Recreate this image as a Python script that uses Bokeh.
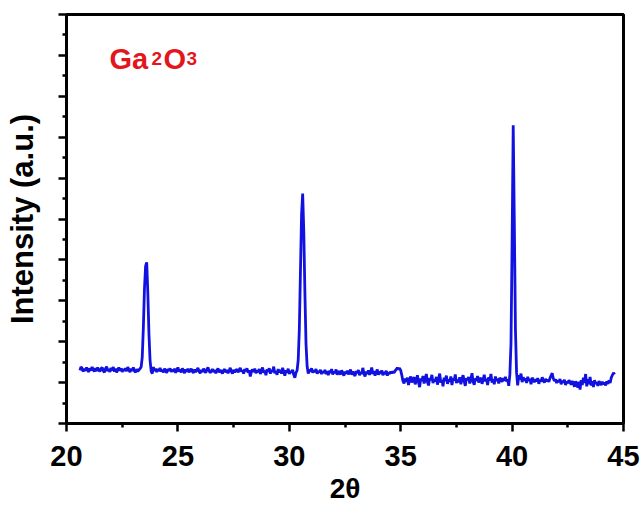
from bokeh.plotting import figure
from bokeh.models import Range1d, FixedTicker, Label, CustomJSTickFormatter
from bokeh.embed import file_html
from bokeh.resources import INLINE

# ---- data -------------------------------------------------------------
two_theta_start = 20.60
two_theta_step = 0.05

intensity = [
    # 20.60 - 21.55
    1.30, 1.38, 1.35, 1.27, 1.34, 1.29, 1.37, 1.31, 1.26, 1.35, 1.30, 1.38, 1.32, 1.27, 1.35, 1.28, 1.37, 1.31, 1.27, 1.34,
    # 21.60 - 22.55
    1.37, 1.29, 1.25, 1.34, 1.39, 1.28, 1.33, 1.26, 1.36, 1.30, 1.38, 1.27, 1.34, 1.25, 1.31, 1.37, 1.29, 1.35, 1.26, 1.33,
    # 22.60 - 23.55
    1.29, 1.35, 1.28, 1.38, 1.31, 1.26, 1.34, 1.29, 1.37, 1.28, 1.25, 1.33, 1.27, 1.31, 1.34, 1.38, 1.62, 2.35, 3.30, 3.85,
    # 23.60 - 24.55
    3.94, 3.20, 2.20, 1.55, 1.28, 1.22, 1.38, 1.29, 1.34, 1.26, 1.33, 1.28, 1.36, 1.27, 1.31, 1.25, 1.34, 1.29, 1.24, 1.33,
    # 24.60 - 25.55
    1.29, 1.35, 1.26, 1.32, 1.27, 1.34, 1.24, 1.30, 1.37, 1.27, 1.32, 1.25, 1.35, 1.29, 1.23, 1.32, 1.27, 1.34, 1.25, 1.30,
    # 25.60 - 26.55
    1.34, 1.27, 1.24, 1.32, 1.26, 1.30, 1.36, 1.27, 1.23, 1.31, 1.26, 1.34, 1.28, 1.24, 1.32, 1.37, 1.29, 1.24, 1.28, 1.33,
    # 26.60 - 27.55
    1.26, 1.31, 1.23, 1.29, 1.35, 1.25, 1.31, 1.27, 1.22, 1.30, 1.33, 1.25, 1.31, 1.23, 1.29, 1.36, 1.27, 1.22, 1.31, 1.26,
    # 27.60 - 28.55
    1.29, 1.33, 1.25, 1.31, 1.36, 1.27, 1.30, 1.22, 1.33, 1.28, 1.35, 1.24, 1.30, 1.15, 1.27, 1.32, 1.26, 1.34, 1.23, 1.29,
    # 28.60 - 29.55
    1.26, 1.33, 1.21, 1.30, 1.37, 1.24, 1.29, 1.18, 1.32, 1.27, 1.35, 1.22, 1.31, 1.26, 1.39, 1.23, 1.28, 1.19, 1.33, 1.25,
    # 29.60 - 30.55
    1.31, 1.22, 1.36, 1.27, 1.17, 1.30, 1.24, 1.34, 1.21, 1.28, 1.25, 1.31, 1.19, 1.12, 1.24, 1.30, 1.55, 2.30, 3.70, 5.10,
    # 30.60 - 31.55
    5.62, 4.70, 3.20, 1.95, 1.40, 1.22, 1.32, 1.27, 1.35, 1.24, 1.30, 1.26, 1.33, 1.22, 1.28, 1.25, 1.31, 1.21, 1.27, 1.24,
    # 31.60 - 32.55
    1.31, 1.21, 1.28, 1.18, 1.29, 1.24, 1.33, 1.20, 1.27, 1.23, 1.32, 1.19, 1.28, 1.24, 1.20, 1.30, 1.23, 1.17, 1.27, 1.22,
    # 32.60 - 33.55
    1.29, 1.20, 1.26, 1.32, 1.19, 1.27, 1.22, 1.16, 1.28, 1.23, 1.31, 1.18, 1.26, 1.21, 1.36, 1.23, 1.15, 1.27, 1.21, 1.30,
    # 33.60 - 34.55
    1.19, 1.26, 1.37, 1.21, 1.28, 1.17, 1.25, 1.32, 1.19, 1.27, 1.22, 1.30, 1.18, 1.26, 1.21, 1.29, 1.17, 1.25, 1.21, 1.27,
    # 34.60 - 35.55
    1.23, 1.27, 1.24, 1.29, 1.32, 1.36, 1.33, 1.35, 1.30, 1.18, 1.04, 0.98, 1.10, 1.02, 1.12, 0.94, 1.08, 1.15, 1.00, 1.09,
    # 35.60 - 36.55
    1.13, 0.96, 1.05, 1.18, 1.01, 0.89, 1.10, 1.04, 1.16, 0.98, 1.07, 1.21, 1.02, 0.93, 1.11, 1.06, 1.19, 0.99, 1.08, 1.03,
    # 36.60 - 37.55
    1.14, 0.95, 1.09, 1.22, 1.00, 1.06, 0.91, 1.12, 1.04, 1.17, 0.97, 1.08, 1.02, 1.15, 0.94, 1.10, 1.05, 1.20, 0.99, 1.07,
    # 37.60 - 38.55
    1.01, 1.13, 0.96, 1.09, 1.18, 1.03, 0.92, 1.11, 1.06, 1.14, 0.98, 1.08, 1.23, 1.02, 0.95, 1.10, 1.05, 1.16, 1.00, 1.07,
    # 38.60 - 39.55
    1.12, 0.97, 1.06, 1.19, 1.03, 1.09, 0.94, 1.13, 1.05, 1.21, 1.00, 1.08, 0.96, 1.15, 1.04, 1.10, 0.98, 1.12, 1.06, 1.02,
    # 39.60 - 40.55
    1.11, 1.05, 1.14, 1.03, 1.08, 0.92, 1.20, 1.95, 4.40, 7.29, 4.90, 2.30, 1.25, 0.93, 1.18, 1.07, 1.22, 1.01, 1.13, 1.05,
    # 40.60 - 41.55
    1.10, 0.99, 1.14, 1.04, 1.09, 0.96, 1.12, 1.06, 1.01, 1.08, 1.03, 1.11, 0.97, 1.07, 1.02, 1.13, 1.05, 1.00, 1.09, 1.04,
    # 41.60 - 42.55
    1.07, 1.02, 1.11, 1.17, 1.23, 1.10, 1.04, 1.08, 0.99, 1.06, 1.01, 1.09, 0.96, 1.05, 1.00, 1.07, 0.94, 1.03, 0.98, 1.06,
    # 42.60 - 43.55
    1.01, 0.95, 1.04, 0.98, 0.90, 1.03, 0.97, 0.88, 1.02, 0.83, 1.06, 0.94, 1.12, 0.99, 1.21, 0.91, 1.08, 0.96, 1.14, 0.93,
    # 43.60 - 44.55
    1.03, 0.89, 1.06, 0.97, 1.01, 0.92, 1.04, 0.98, 0.94, 1.02, 0.96, 1.00, 0.93, 1.03, 0.97, 1.05, 0.99, 1.12, 1.18, 1.24,
    # 44.60
    1.20,
]

two_theta = [round(two_theta_start + i * two_theta_step, 2) for i in range(len(intensity))]

x_major_ticks = [20, 25, 30, 35, 40, 45]
x_minor_ticks = [22.5, 27.5, 32.5, 37.5, 42.5]
y_major_ticks = [0, 1, 2, 3, 4, 5, 6, 7, 8, 9, 10]
y_minor_ticks = [0.5, 1.5, 2.5, 3.5, 4.5, 5.5, 6.5, 7.5, 8.5, 9.5]

x_title = "2θ"
y_title = "Intensity (a.u.)"
sample_parts = ["Ga", "2", "O", "3"]

# ---- figure -----------------------------------------------------------
FONT = "Liberation Sans"
p = figure(width=644, height=507,
           x_range=Range1d(20, 45), y_range=Range1d(0, 10),
           output_backend="svg", toolbar_location=None,
           min_border_left=66, min_border_top=14,
           min_border_right=21, min_border_bottom=84)
p.background_fill_color = "white"
p.border_fill_color = "white"
p.grid.visible = False
p.outline_line_color = "black"
p.outline_line_width = 3

p.line(two_theta, intensity, line_color="#1212e0", line_width=2.8)

for ax in (p.xaxis[0], p.yaxis[0]):
    ax.axis_line_width = 3
    ax.axis_line_color = "black"
    ax.major_tick_line_width = 2.5
    ax.minor_tick_line_width = 2.5
    ax.major_tick_line_color = "black"
    ax.minor_tick_line_color = "black"
    ax.major_tick_in = 0
    ax.major_tick_out = 8
    ax.minor_tick_in = 0
    ax.minor_tick_out = 4
    ax.axis_label_text_font = FONT
    ax.axis_label_text_font_style = "bold"
    ax.axis_label_text_color = "black"
    ax.major_label_text_font = FONT
    ax.major_label_text_font_style = "bold"
    ax.major_label_text_color = "black"

p.xaxis.ticker = FixedTicker(ticks=x_major_ticks, minor_ticks=x_minor_ticks)
p.xaxis.major_label_text_font_size = "29px"
p.xaxis.major_label_standoff = 14
p.xaxis.axis_label = x_title
p.xaxis.axis_label_text_font_size = "28px"
p.xaxis.axis_label_standoff = 4

p.yaxis.ticker = FixedTicker(ticks=y_major_ticks, minor_ticks=y_minor_ticks)
p.yaxis.formatter = CustomJSTickFormatter(code="return ''")
p.yaxis.major_label_standoff = 0
p.yaxis.axis_label = y_title
p.yaxis.axis_label_text_font_size = "31px"
p.yaxis.axis_label_standoff = 19

# sample name Ga2O3 with subscripts
red = "#e3161d"
offsets = [0, 42, 54, 77]
sizes = ["29px", "19px", "29px", "19px"]
for part, off, sz in zip(sample_parts, offsets, sizes):
    p.add_layout(Label(x=21.93, y=8.92, x_offset=off, y_offset=0, text=part,
                       text_font=FONT, text_font_style="bold", text_font_size=sz,
                       text_color=red, text_align="left", text_baseline="alphabetic"))

open("out.html", "w").write(file_html(p, INLINE))
